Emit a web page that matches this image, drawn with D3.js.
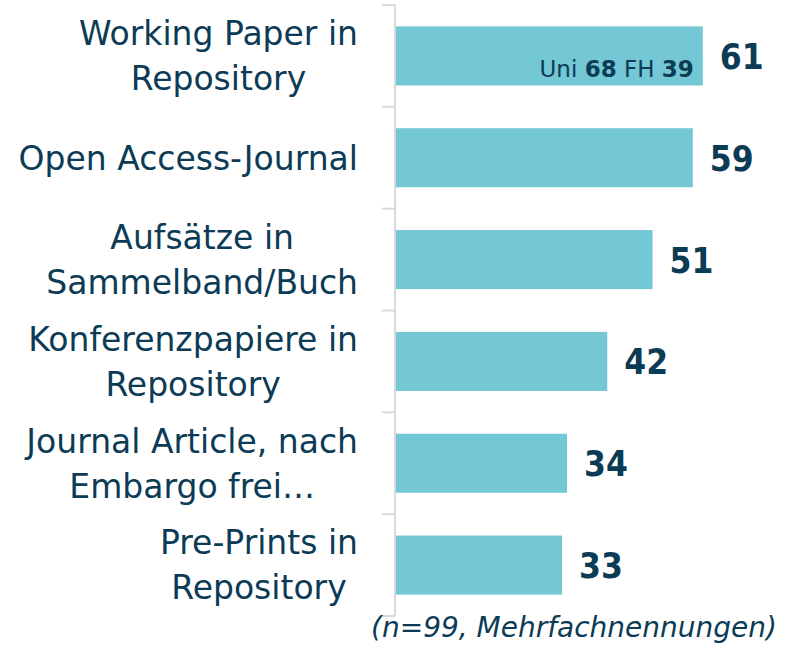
<!DOCTYPE html>
<html>
<head>
<meta charset="utf-8">
<script src="https://cdn.jsdelivr.net/npm/d3@7"></script>
<style>
  body { margin: 0; background: #fff; }
  svg { display: block; font-family: "DejaVu Sans", Verdana, sans-serif; }
</style>
</head>
<body>
<svg id="chart" width="792" height="645"></svg>
<script>
const categories = [
  ["Working Paper in", "Repository"],
  ["Open Access-Journal"],
  ["Aufsätze in", "Sammelband/Buch"],
  ["Konferenzpapiere in", "Repository"],
  ["Journal Article, nach", "Embargo frei…"],
  ["Pre-Prints in", "Repository"]
]
const values = [61, 59, 51, 42, 34, 33]
const subLabel = [["Uni ", "68", " FH ", "39"]]  // only the first bar
const note = "(n=99, Mehrfachnennungen)"

const ink = "#0c3b56"
const barColor = "#74c7d5"

const svg = d3.select("#chart")
const margin = { top: 5, left: 395 }
const plotH = 616
const labelRight = 358

const y = d3.scaleBand()
  .domain(d3.range(categories.length))
  .range([margin.top, plotH])
  .paddingInner(0.42)
  .paddingOuter(0.21)

const x = d3.scaleLinear()
  .domain([0, 100])
  .range([margin.left + 1, margin.left + 1 + 503])

// axis with ticks between categories
const tickYs = d3.range(categories.length + 1).map(i => margin.top + i * (plotH - margin.top) / categories.length)
const axis = svg.append("g").attr("stroke", "#d9d9d9").attr("stroke-width", 2)
axis.append("line")
  .attr("x1", margin.left).attr("x2", margin.left)
  .attr("y1", tickYs[0]).attr("y2", tickYs[tickYs.length - 1])
axis.selectAll("line.tick")
  .data(tickYs)
  .enter()
  .append("line")
  .attr("class", "tick")
  .attr("x1", margin.left - 13).attr("x2", margin.left)
  .attr("y1", d => d).attr("y2", d => d)

// bars
svg.selectAll("rect.bar")
  .data(values)
  .enter()
  .append("rect")
  .attr("class", "bar")
  .attr("x", x(0))
  .attr("y", (d, i) => y(i))
  .attr("width", d => x(d) - x(0))
  .attr("height", y.bandwidth())
  .attr("fill", barColor)

// value labels
svg.selectAll("text.value")
  .data(values)
  .enter()
  .append("text")
  .attr("class", "value")
  .attr("x", d => x(d) + 17)
  .attr("y", (d, i) => y(i) + y.bandwidth() / 2)
  .attr("dy", "0.37em")
  .attr("font-family", "'DejaVu Sans Condensed', 'DejaVu Sans', sans-serif")
  .attr("font-size", 35)
  .attr("font-weight", "bold")
  .attr("fill", ink)
  .text(d => d)

// category labels: lines centred on each other, block right-aligned
const lab = svg.selectAll("text.cat")
  .data(categories)
  .enter()
  .append("text")
  .attr("class", "cat")
  .attr("text-anchor", "middle")
  .attr("font-size", 33)
  .attr("fill", ink)
const spans = lab.selectAll("tspan")
  .data(d => d.map((t, k) => ({ t, k, n: d.length })))
  .enter()
  .append("tspan")
  .attr("x", 0)
  .attr("y", d => (d.k - (d.n - 1) / 2) * 45)
  .attr("dy", "0.36em")
  .text(d => d.t)
lab.each(function (d, i) {
  const widths = []
  d3.select(this).selectAll("tspan").each(function () { widths.push(this.getComputedTextLength()) })
  const w = d3.max(widths)
  d3.select(this).attr("transform", `translate(${labelRight - w / 2},${y(i) + y.bandwidth() / 2})`)
})

// inside label on first bar
const inner = svg.append("text")
  .attr("text-anchor", "end")
  .attr("x", x(values[0]) - 9)
  .attr("y", y(0) + y.bandwidth() - 8)
  .attr("font-size", 23)
  .attr("fill", ink)
inner.selectAll("tspan")
  .data(subLabel[0])
  .enter()
  .append("tspan")
  .attr("font-weight", (d, i) => i % 2 ? "bold" : "normal")
  .text(d => d)

// footnote
svg.append("text")
  .attr("x", 777)
  .attr("y", 637)
  .attr("text-anchor", "end")
  .attr("font-size", 28)
  .attr("font-style", "italic")
  .attr("fill", ink)
  .text(note)
</script>
</body>
</html>
